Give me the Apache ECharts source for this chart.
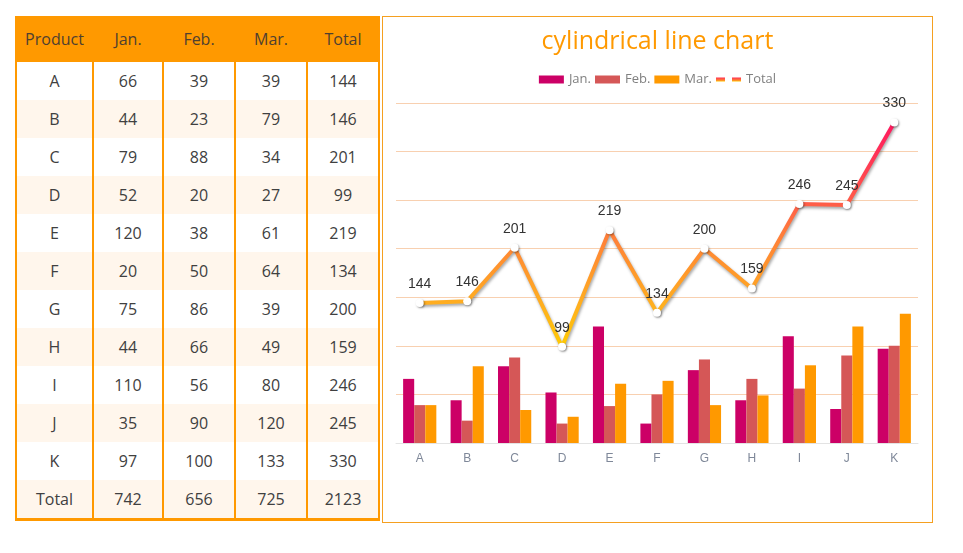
<!DOCTYPE html>
<html><head><meta charset="utf-8">
<script src="https://cdn.jsdelivr.net/npm/echarts@6/dist/echarts.min.js"></script>
<style>
body{margin:0;background:#fff;width:963px;height:553px;position:relative;overflow:hidden;font-family:"Open Sans","Noto Sans",sans-serif;}
#tbl{position:absolute;left:15px;top:16px;border-collapse:collapse;table-layout:fixed;width:365px;color:#404040;font-size:16px;}
#tbl td,#tbl th{border-left:2px solid #FF9900;border-right:2px solid #FF9900;text-align:center;padding:0;}
#tbl th{background:#FF9900;height:46px;font-weight:normal;color:#4f4030;}
#tbl td{height:38px;}
#tbl tr:nth-child(even) td{background:#FFF6EC;}
#tbl tr:last-child td{border-bottom:3px solid #FF9900;}
#chart{position:absolute;left:382px;top:16px;width:549px;height:505px;border:1px solid #F5A020;}
</style></head>
<body>
<table id="tbl"><colgroup><col style="width:77px"><col style="width:70px"><col style="width:72px"><col style="width:72px"><col style="width:72px"></colgroup><thead></thead><tbody></tbody></table>
<div id="chart"></div>
<script>
const categories = ['A','B','C','D','E','F','G','H','I','J','K'];
const jan = [66,44,79,52,120,20,75,44,110,35,97];
const feb = [39,23,88,20,38,50,86,66,56,90,100];
const mar = [39,79,34,27,61,64,39,49,80,120,133];
const total = [144,146,201,99,219,134,200,159,246,245,330];
const headers = ['Product','Jan.','Feb.','Mar.','Total'];
const colTotals = [742,656,725,2123];

// table
const thead = document.querySelector('#tbl thead');
thead.innerHTML = '<tr>' + headers.map(h => '<th>' + h + '</th>').join('') + '</tr>';
const tbody = document.querySelector('#tbl tbody');
let rows = '';
categories.forEach((c, i) => {
  rows += '<tr><td>' + c + '</td><td>' + jan[i] + '</td><td>' + feb[i] + '</td><td>' + mar[i] + '</td><td>' + total[i] + '</td></tr>';
});
rows += '<tr><td>Total</td>' + colTotals.map(v => '<td>' + v + '</td>').join('') + '</tr>';
tbody.innerHTML = rows;

const chart = echarts.init(document.getElementById('chart'));
const lineGrad = new echarts.graphic.LinearGradient(0, 0, 0, 1, [
  {offset: 0, color: '#FF1560'},
  {offset: 0.36, color: '#FF5C48'},
  {offset: 0.5, color: '#FF7E3A'},
  {offset: 0.6, color: '#FF8E30'},
  {offset: 0.8, color: '#FFAE20'},
  {offset: 1, color: '#FFCC00'}
]);
const iconGrad = new echarts.graphic.LinearGradient(0, 0, 0, 1, [
  {offset: 0, color: '#FF3050'}, {offset: 0.5, color: '#FF6A3D'}, {offset: 1, color: '#FFC000'}
]);
chart.setOption({
  animation: false,
  title: {text: 'cylindrical line chart', left: 'center', top: 7,
    textStyle: {color: '#FF9900', fontSize: 25, fontWeight: 'normal', fontFamily: 'Open Sans'}},
  legend: {top: 51, left: 'center', itemWidth: 25, itemHeight: 8, itemGap: 4,
    textStyle: {color: '#808080', fontSize: 13, fontFamily: 'Open Sans'},
    data: [{name: 'Jan.', icon: 'rect'}, {name: 'Feb.', icon: 'rect'}, {name: 'Mar.', icon: 'rect'},
      {name: 'Total', icon: 'path://M0,2 L9,2 L9,6 L0,6 Z M16,2 L25,2 L25,6 L16,6 Z', itemStyle: {color: iconGrad}}]},
  grid: {left: 13, right: 14, top: 86, bottom: 79},
  xAxis: {type: 'category', data: categories,
    axisLine: {lineStyle: {color: '#e3e3e3'}},
    axisTick: {lineStyle: {color: '#e3e3e3'}},
    axisLabel: {color: '#7f8899', fontSize: 12, margin: 10}},
  yAxis: {type: 'value', min: 0, max: 350, interval: 50,
    axisLabel: {show: false}, axisLine: {show: false}, axisTick: {show: false},
    splitLine: {lineStyle: {color: '#F8D0B0'}}},
  series: [
    {name: 'Jan.', type: 'bar', data: jan, itemStyle: {color: '#CC0066'}, barGap: '0%', barCategoryGap: '30%'},
    {name: 'Feb.', type: 'bar', data: feb, itemStyle: {color: '#D55757'}},
    {name: 'Mar.', type: 'bar', data: mar, itemStyle: {color: '#FF9900'}},
    {name: 'Total', type: 'line', data: total, symbol: 'circle', symbolSize: 8,
      lineStyle: {width: 4, color: lineGrad, shadowColor: 'rgba(0,0,0,0.35)', shadowBlur: 3, shadowOffsetX: 1, shadowOffsetY: 2},
      itemStyle: {color: '#fff', borderWidth: 0, shadowColor: 'rgba(0,0,0,0.4)', shadowBlur: 2, shadowOffsetX: 1, shadowOffsetY: 1},
      label: {show: true, position: 'top', distance: 8, color: '#333', fontSize: 14, fontFamily: 'Liberation Sans'},
      z: 5}
  ]
});
</script>
</body></html>
